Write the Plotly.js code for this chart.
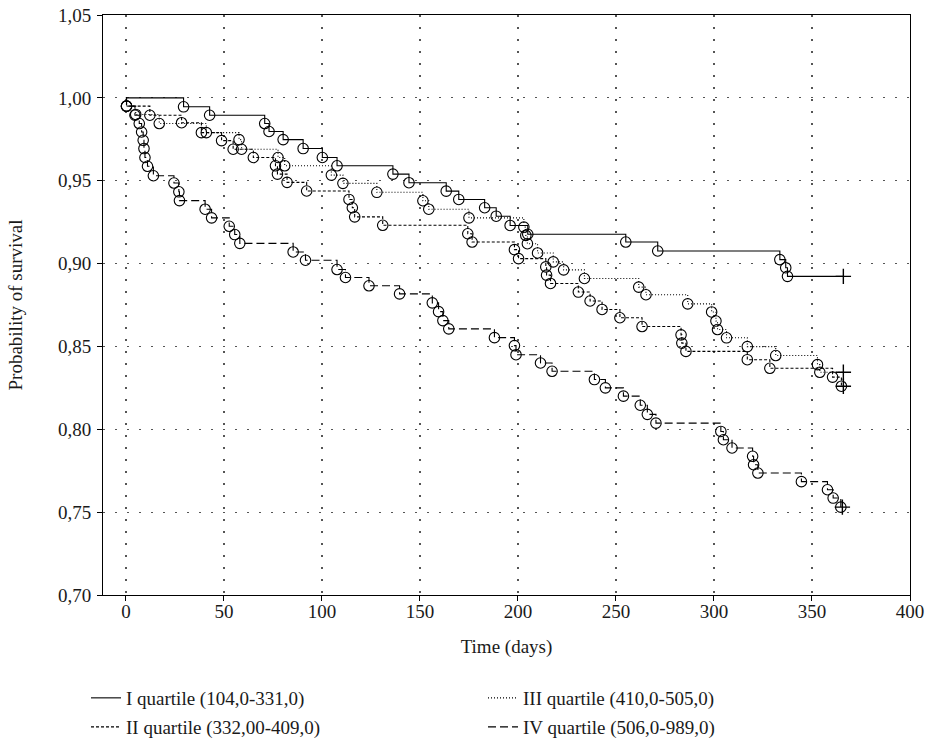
<!DOCTYPE html>
<html><head><meta charset="utf-8">
<script src="https://cdn.plot.ly/plotly-3.0.1.min.js"></script>
<style>html,body{margin:0;padding:0;background:#fff;} #chart{width:927px;height:746px;}</style>
</head><body><div id="chart"></div>
<script>
// Series names (legend)
const seriesNames = ["I quartile (104,0-331,0)", "II quartile (332,00-409,0)", "III quartile (410,0-505,0)", "IV quartile (506,0-989,0)"];

// Event times (days) and survival after each event
const timesI = [29.4, 42.7, 70.8, 73, 80.2, 90.4, 100.2, 107.7, 136.2, 144.4, 163.4, 169.8, 183, 188.9, 196, 205, 255, 271.3, 333.6, 336.6, 337.5];
const survI  = [0.9946, 0.9895, 0.9845, 0.9797, 0.9748, 0.9694, 0.964, 0.959, 0.954, 0.9488, 0.9437, 0.9387, 0.9337, 0.9286, 0.923, 0.9177, 0.913, 0.9076, 0.9024, 0.8975, 0.8923];

const timesII = [0.3, 12.2, 28.4, 38.5, 48.8, 54.7, 65, 76.3, 77.3, 82.2, 92.2, 113.8, 115.5, 116.7, 131, 174.4, 176.6, 198.2, 200.3, 214.2, 214.6, 216.6, 230.8, 236.8, 242.9, 252, 263.3, 283.2, 283.6, 285.7, 317, 328.5, 360.5, 365];
const survII  = [0.995, 0.9895, 0.985, 0.979, 0.9742, 0.969, 0.964, 0.959, 0.954, 0.949, 0.9438, 0.9387, 0.9337, 0.9282, 0.9231, 0.918, 0.913, 0.9084, 0.903, 0.898, 0.893, 0.888, 0.8828, 0.8774, 0.8723, 0.8673, 0.862, 0.857, 0.852, 0.847, 0.842, 0.8368, 0.8315, 0.826];

const timesIII = [0.3, 5, 17, 41, 57.7, 59, 77.6, 81, 104.8, 110.7, 128, 151.5, 154.5, 175, 203, 204, 204.8, 210, 218, 223.3, 233.9, 261.6, 265.3, 286.6, 298.8, 301, 301.8, 306.4, 317, 331.5, 352.8, 354];
const survIII  = [0.995, 0.99, 0.9845, 0.979, 0.9748, 0.969, 0.964, 0.959, 0.9534, 0.9484, 0.943, 0.9379, 0.9328, 0.9276, 0.922, 0.917, 0.912, 0.9064, 0.901, 0.8962, 0.891, 0.8858, 0.8812, 0.8757, 0.8708, 0.8653, 0.8602, 0.8552, 0.8499, 0.8445, 0.839, 0.8344];

const timesIV = [0.3, 4.6, 6.8, 8, 8.8, 9.2, 9.7, 11, 14, 24.5, 27, 27.3, 40.4, 43.7, 52.7, 55.5, 58.1, 85.3, 91.6, 107.7, 112, 124, 139.6, 156.3, 159.5, 161.7, 164.7, 188, 198.2, 199, 211.5, 217.4, 239, 244.6, 253.8, 262.4, 266, 270.4, 303.5, 304.8, 309.2, 319.7, 320.2, 322.4, 344.6, 357.9, 360.8, 364.7];
const survIV  = [0.995, 0.9895, 0.9845, 0.9794, 0.9744, 0.9694, 0.964, 0.9587, 0.953, 0.9486, 0.9433, 0.938, 0.9328, 0.9276, 0.9225, 0.9175, 0.9122, 0.907, 0.902, 0.8964, 0.8916, 0.8866, 0.8817, 0.8763, 0.871, 0.8656, 0.8606, 0.8553, 0.8505, 0.845, 0.84, 0.835, 0.830, 0.825, 0.820, 0.8145, 0.809, 0.8037, 0.7987, 0.7937, 0.7887, 0.7837, 0.7786, 0.7736, 0.7684, 0.7635, 0.7585, 0.753];

// Last follow-up (censored) time for each group
const endTimes = [366, 366, 366, 365.5];

const xTicks = [0, 50, 100, 150, 200, 250, 300, 350, 400];
const yTicks = [0.70, 0.75, 0.80, 0.85, 0.90, 0.95, 1.00, 1.05];

const groups = [
  {t: timesI, s: survI, end: endTimes[0], name: seriesNames[0], dash: 'solid', legend: 'legend'},
  {t: timesII, s: survII, end: endTimes[1], name: seriesNames[1], dash: '3px,2px', legend: 'legend3'},
  {t: timesIII, s: survIII, end: endTimes[2], name: seriesNames[2], dash: '1px,2px', legend: 'legend2'},
  {t: timesIV, s: survIV, end: endTimes[3], name: seriesNames[3], dash: '8px,4px', legend: 'legend4'}
];

const FONT = 'Liberation Serif, Times New Roman, serif';
const FS = 19;
const TXT = '#1a1a1a';
const traces = [];
groups.forEach(g => {
  traces.push({
    x: [0].concat(g.t, [g.end]),
    y: [1].concat(g.s, [g.s[g.s.length - 1]]),
    mode: 'lines', name: g.name, showlegend: true, legend: g.legend,
    line: {shape: 'hv', color: '#000', width: 1.1, dash: g.dash},
    hoverinfo: 'skip'
  });
});
groups.forEach(g => {
  traces.push({
    x: g.t, y: g.s, mode: 'markers', showlegend: false,
    marker: {symbol: 'circle-open', size: 10.5, color: '#000', line: {width: 1.1, color: '#000'}},
    hoverinfo: 'skip'
  });
  traces.push({
    x: [g.end], y: [g.s[g.s.length - 1]], mode: 'markers', showlegend: false,
    marker: {symbol: 'cross-thin-open', size: 11, color: '#000', line: {width: 1.4, color: '#000'}},
    hoverinfo: 'skip'
  });
});

const axisCommon = {
  showline: true, mirror: true, linecolor: '#000', linewidth: 1,
  ticks: 'outside', ticklen: 5, tickwidth: 1, tickcolor: '#000',
  showgrid: true, gridcolor: '#555', gridwidth: 1.2, griddash: '1.5px,10.5px',
  zeroline: false, automargin: false, tickfont: {family: FONT, size: FS, color: TXT}
};

function legendAt(xpx, ypx) {
  return {
    orientation: 'h', xref: 'container', yref: 'container',
    xanchor: 'left', yanchor: 'middle',
    x: xpx / 927, y: 1 - ypx / 746, itemwidth: 30,
    font: {family: FONT, size: FS, color: TXT}, bgcolor: 'rgba(0,0,0,0)'
  };
}

const layout = {
  width: 927, height: 746,
  margin: {l: 103, r: 17, t: 15, b: 151, autoexpand: false},
  paper_bgcolor: '#fff', plot_bgcolor: '#fff',
  separators: ', ',
  font: {family: FONT, size: FS, color: TXT},
  xaxis: Object.assign({}, axisCommon, {
    range: [-11.7, 400], tickvals: xTicks, ticklabelstandoff: -6,
    title: {text: 'Time (days)', font: {family: FONT, size: FS, color: TXT}, standoff: 18}
  }),
  yaxis: Object.assign({}, axisCommon, {
    range: [0.70, 1.05], tickvals: yTicks, tickformat: '.2f', ticklabelstandoff: 2,
    title: {text: 'Probability of survival', font: {family: FONT, size: FS, color: TXT}, standoff: 30}
  }),
  showlegend: true,
  legend: legendAt(86, 698),
  legend2: legendAt(483, 698),
  legend3: legendAt(86, 727),
  legend4: legendAt(483, 727)
};

Plotly.newPlot('chart', traces, layout, {staticPlot: true, displayModeBar: false});
</script>
</body></html>
